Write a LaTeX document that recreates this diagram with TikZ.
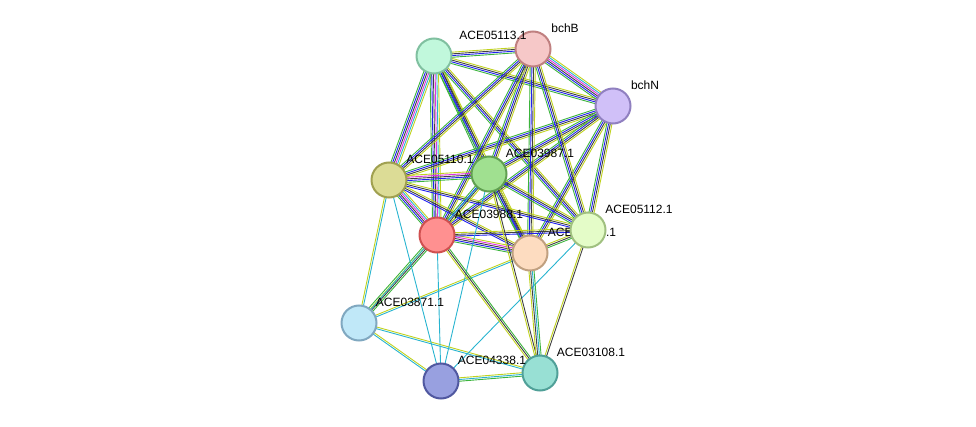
\documentclass[tikz,border=0pt]{standalone}
\usepackage{fontspec}
\setmainfont{Liberation Sans}
\usetikzlibrary{calc}
\pgfdeclarelayer{bg}\pgfsetlayers{bg,main}
\definecolor{eG}{HTML}{3CB43C}\definecolor{eB}{HTML}{2020F0}\definecolor{eK}{HTML}{404040}
\definecolor{eY}{HTML}{C0D21E}\definecolor{eC}{HTML}{28B4D0}\definecolor{eM}{HTML}{E030E0}
\newcommand\edg[4]{\foreach \cc [count=\ii] in {#4}{%
  \pgfmathsetmacro\oo{(\ii-(#3+1)/2)*1.7}%
  \draw[\cc,line width=0.9pt] ($(#1.center)!\oo pt!90:(#2.center)$) -- ($(#2.center)!\oo pt!-90:(#1.center)$);}}
\begin{document}
\begin{tikzpicture}[x=1pt,y=-1pt,
  nd/.style={circle,minimum size=35pt,inner sep=0pt,line width=2pt},
  lb/.style={font=\fontsize{12}{14}\selectfont,inner sep=0pt}]
\useasboundingbox (0,0) rectangle (976,427);
\node[lb] (tP) at (582,232) {ACE03989.1};
\node[nd,fill={rgb,255:red,193;green,248;blue,220},draw={rgb,255:red,128;green,192;blue,160}] (A) at (434,56) {};
\node[nd,fill={rgb,255:red,246;green,200;blue,200},draw={rgb,255:red,192;green,128;blue,128}] (B) at (533,49) {};
\node[nd,fill={rgb,255:red,208;green,192;blue,248},draw={rgb,255:red,144;green,128;blue,192}] (N) at (613,106) {};
\node[nd,fill={rgb,255:red,220;green,220;blue,150},draw={rgb,255:red,160;green,160;blue,80}] (K) at (389,180) {};
\node[nd,fill={rgb,255:red,160;green,224;blue,144},draw={rgb,255:red,96;green,160;blue,80}] (G) at (489,174) {};
\node[nd,fill={rgb,255:red,255;green,144;blue,144},draw={rgb,255:red,208;green,80;blue,80}] (R) at (437,235) {};
\node[nd,fill={rgb,255:red,253;green,220;blue,192},draw={rgb,255:red,192;green,160;blue,128}] (P) at (530,253) {};
\node[nd,fill={rgb,255:red,228;green,252;blue,200},draw={rgb,255:red,160;green,192;blue,128}] (Y) at (588,230) {};
\node[nd,fill={rgb,255:red,192;green,232;blue,248},draw={rgb,255:red,128;green,168;blue,192}] (L) at (359,323) {};
\node[nd,fill={rgb,255:red,152;green,160;blue,224},draw={rgb,255:red,80;green,88;blue,160}] (S) at (441,381) {};
\node[nd,fill={rgb,255:red,152;green,224;blue,212},draw={rgb,255:red,80;green,160;blue,152}] (T) at (540,373) {};
\node[lb] (tA) at (493,35) {ACE05113.1};
\node[lb] (tB) at (565,28) {bchB};
\node[lb] (tN) at (645,85) {bchN};
\node[lb] (tK) at (440,159) {ACE05110.1};
\node[lb] (tG) at (540,153) {ACE03987.1};
\node[lb] (tR) at (489,214) {ACE03988.1};
\node[lb] (tY) at (639,209) {ACE05112.1};
\node[lb] (tL) at (410,302) {ACE03871.1};
\node[lb] (tS) at (492,360) {ACE04338.1};
\node[lb] (tT) at (591,352) {ACE03108.1};
\begin{pgfonlayer}{bg}
\edg{A}{B}{4}{eG,eB,eK,eY}
\edg{A}{N}{4}{eG,eB,eK,eY}
\edg{B}{N}{6}{eG,eB,eK,eM,eC,eY}
\edg{A}{K}{6}{eG,eB,eK,eM,eC,eY}
\edg{A}{G}{4}{eG,eB,eK,eY}
\edg{A}{R}{6}{eG,eB,eK,eM,eC,eY}
\edg{A}{P}{4}{eG,eB,eK,eY}
\edg{A}{Y}{4}{eG,eB,eK,eY}
\foreach \x in {K,G,R,P,Y}{\edg{B}{\x}{4}{eG,eB,eK,eY}\edg{N}{\x}{4}{eG,eB,eK,eY}}
\edg{K}{G}{5}{eG,eB,eK,eM,eY}
\edg{K}{R}{6}{eG,eB,eK,eM,eC,eY}
\edg{K}{P}{3}{eB,eK,eY}
\edg{K}{Y}{3}{eB,eK,eY}
\edg{G}{R}{4}{eG,eB,eK,eY}
\edg{G}{P}{4}{eG,eB,eK,eY}
\edg{G}{Y}{4}{eG,eB,eK,eY}
\edg{R}{P}{5}{eG,eB,eK,eM,eY}
\edg{R}{Y}{3}{eB,eK,eY}
\edg{P}{Y}{3}{eG,eK,eY}
\edg{L}{K}{2}{eC,eY}
\edg{L}{R}{4}{eG,eK,eY,eG}
\edg{L}{P}{2}{eC,eY}
\edg{L}{G}{1}{eC}
\edg{L}{S}{2}{eC,eY}
\edg{L}{T}{2}{eC,eY}
\edg{S}{T}{3}{eG,eC,eY}
\edg{S}{K}{1}{eC}
\edg{S}{R}{1}{eC}
\edg{S}{G}{1}{eC}
\edg{S}{Y}{1}{eC}
\edg{T}{R}{3}{eG,eK,eY}
\edg{T}{G}{2}{eK,eY}
\edg{T}{P}{4}{eG,eC,eK,eY}
\edg{T}{Y}{2}{eK,eY}
\end{pgfonlayer}
\end{tikzpicture}
\end{document}
